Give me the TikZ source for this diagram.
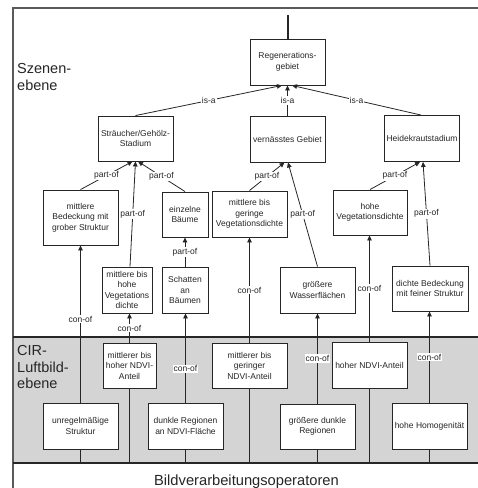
\documentclass[tikz,border=0pt]{standalone}
\usepackage{fontspec}
\setmainfont{Liberation Sans}
\usetikzlibrary{arrows.meta}
\definecolor{bandgray}{HTML}{D4D4D4}
\definecolor{ink}{HTML}{262626}
\definecolor{framegray}{HTML}{5A5A5A}
\tikzset{
  box/.style={draw=ink, line width=0.9pt, fill=white, align=center, inner sep=1pt,
    font=\fontsize{8.5}{10.5}\selectfont, text=ink},
  conn/.style={draw=ink, line width=0.8pt},
  arr/.style={conn, -{Triangle[length=5pt,width=4.5pt]}},
  lbl/.style={fill=white, inner sep=1pt, font=\fontsize{8.5}{10}\selectfont, text=ink},
  bigtxt/.style={font=\fontsize{14.5}{16.5}\selectfont, text=ink, align=left, inner sep=0pt},
}
\begin{document}
\begin{tikzpicture}[x=1pt,y=-1pt]
\useasboundingbox (0,0) rectangle (478,488);
% band and frame
\fill[bandgray] (13,337) rectangle (478,463);
\draw[framegray, line width=1.6pt] (13,488) -- (13,8) -- (478,8);
\draw[ink, line width=1.1pt] (13,337) -- (478,337);
\draw[ink, line width=1.1pt] (13,463) -- (478,463);
\coordinate (bb) at (0,463);
% level texts
\node[bigtxt, anchor=north west] (sz) at (17,63.5) {Szenen-\\ebene};
\node[bigtxt, anchor=north west] (cir) at (17,345.5) {CIR-\\Luftbild-\\ebene};
\node[font=\fontsize{14.7}{16.5}\selectfont, text=ink, inner sep=0pt, anchor=base] (bv) at (246.5,485) {Bildverarbeitungsoperatoren};
% boxes
\node[box, minimum width=75pt, minimum height=46pt] (reg) at (287.5,62) {Regenerations-\\gebiet};
\node[box, minimum width=75pt, minimum height=45pt] (str) at (135.5,138.5) {Sträucher/Gehölz-\\Stadium};
\node[box, minimum width=75pt, minimum height=46pt] (ver) at (287.5,139) {vernässtes Gebiet};
\node[box, minimum width=75pt, minimum height=46pt] (hei) at (422,138.5) {Heidekrautstadium};
\node[box, minimum width=75pt, minimum height=55pt] (mbg) at (80.5,217.5) {mittlere\\Bedeckung mit\\grober Struktur};
\node[box, minimum width=46pt, minimum height=45pt] (ebm) at (185,214.5) {einzelne\\Bäume};
\node[box, minimum width=75pt, minimum height=46pt] (mgv) at (249.5,214) {mittlere bis\\geringe\\Vegetationsdichte};
\node[box, minimum width=74pt, minimum height=45pt] (hvd) at (370,212.5) {hohe\\Vegetationsdichte};
\node[box, minimum width=50pt, minimum height=46pt] (mhv) at (127,290) {mittlere bis\\hohe\\Vegetations\\dichte};
\node[box, minimum width=46pt, minimum height=46pt] (sch) at (185,290) {Schatten\\an\\Bäumen};
\node[box, minimum width=75pt, minimum height=46pt] (gwf) at (317.5,290) {größere\\Wasserflächen};
\node[box, minimum width=76pt, minimum height=45pt] (dbf) at (430,288.5) {dichte Bedeckung\\mit feiner Struktur};
\node[box, minimum width=53pt, minimum height=45pt] (mhn) at (129.5,365.5) {mittlerer bis\\hoher NDVI-\\Anteil};
\node[box, minimum width=75pt, minimum height=45pt] (mgn) at (249.5,365.5) {mittlerer bis\\geringer\\NDVI-Anteil};
\node[box, minimum width=75pt, minimum height=46pt] (hnd) at (369.5,365) {hoher NDVI-Anteil};
\node[box, minimum width=75pt, minimum height=46pt] (urs) at (80.5,426) {unregelmäßige\\Struktur};
\node[box, minimum width=75pt, minimum height=46pt] (dra) at (185.5,426) {dunkle Regionen\\an NDVI-Fläche};
\node[box, minimum width=75pt, minimum height=45pt] (gdr) at (317.5,426.5) {größere dunkle\\Regionen};
\node[box, minimum width=75pt, minimum height=46pt] (hho) at (429.5,426) {hohe Homogenität};
% top line
\coordinate (topend) at (287.5,15);
\draw[ink, line width=2pt] (topend) -- (reg.north);
% is-a
\draw[arr] (str.north) -- ([xshift=-5.5pt]reg.south) node[lbl, midway] {is-a};
\draw[arr] (ver.north) -- (reg.south) node[lbl, midway] {is-a};
\draw[arr] ([xshift=-1pt]hei.north) -- ([xshift=4.5pt]reg.south) node[lbl, midway] {is-a};
% part-of
\draw[arr] (mbg.north) -- ([xshift=-3pt]str.south) node[lbl, midway] {part-of};
\draw[arr] ([xshift=3pt]mhv.north) -- (str.south) node[lbl, midway] {part-of};
\draw[arr] (ebm.north) -- ([xshift=2.5pt]str.south) node[lbl, midway] {part-of};
\draw[arr] (sch.north) -- (ebm.south) node[lbl, midway] {part-of};
\draw[arr] (mgv.north) -- ([xshift=-3pt]ver.south) node[lbl, midway] {part-of};
\draw[arr] (gwf.north) -- ([xshift=0.5pt]ver.south) node[lbl, midway] {part-of};
\draw[arr] (hvd.north) -- ([xshift=-2pt]hei.south) node[lbl, midway] {part-of};
\draw[arr] (dbf.north) -- ([xshift=1pt]hei.south) node[lbl, midway] {part-of};
% con-of
\draw[arr] (urs.north) -- (mbg.south) node[lbl, pos=0.53] {con-of};
\draw[arr] (mhn.north) -- (mhn.north |- mhv.south) node[lbl, midway] {con-of};
\draw[arr] (dra.north) -- (dra.north |- sch.south) node[lbl, pos=0.38] {con-of};
\draw[arr] (mgn.north) -- (mgv.south) node[lbl, midway] {con-of};
\draw[arr] (gdr.north) -- (gwf.south) node[lbl, midway] {con-of};
\draw[arr] (hnd.north) -- (hnd.north |- hvd.south) node[lbl, midway] {con-of};
\draw[arr] (hho.north) -- (hho.north |- dbf.south) node[lbl, midway] {con-of};
% lines down to operators
\draw[conn] (urs.south) -- (urs.south |- bb);
\draw[conn] (mhn.south) -- (mhn.south |- bb);
\draw[conn] (dra.south) -- (dra.south |- bb);
\draw[conn] (mgn.south) -- (mgn.south |- bb);
\draw[conn] (gdr.south) -- (gdr.south |- bb);
\draw[conn] (hnd.south) -- (hnd.south |- bb);
\draw[conn] (hho.south) -- (hho.south |- bb);
\end{tikzpicture}
\end{document}
